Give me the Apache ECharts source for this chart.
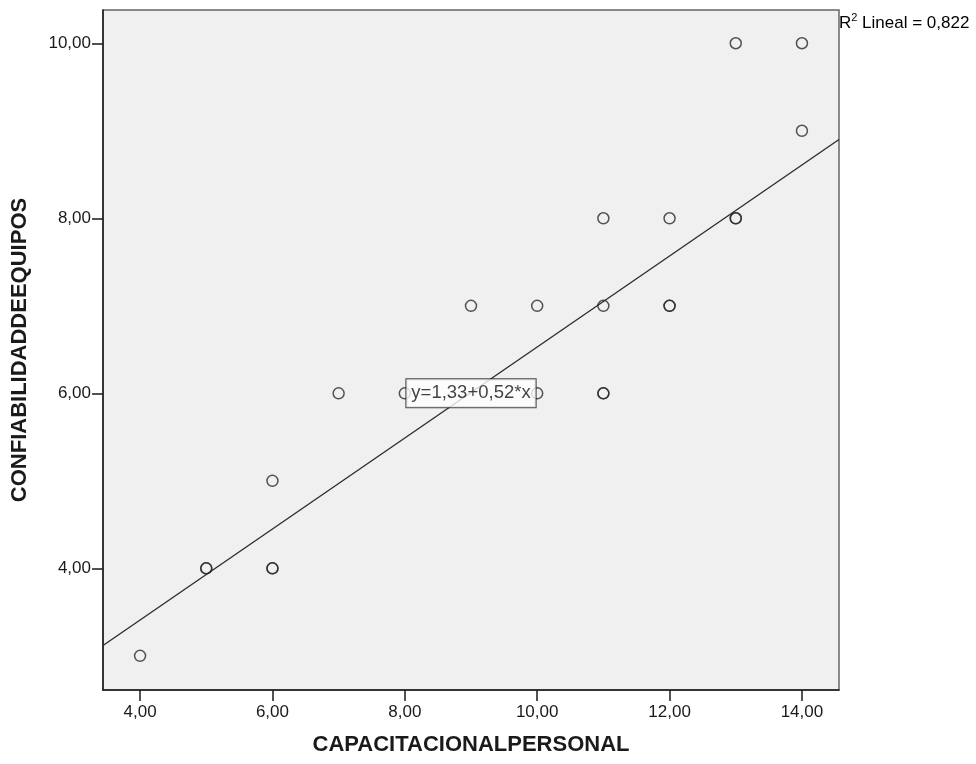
<!DOCTYPE html>
<html><head><meta charset="utf-8">
<script src="https://cdn.jsdelivr.net/npm/echarts@6/dist/echarts.min.js"></script>
<style>html,body{margin:0;padding:0;background:#fff}#c{width:976px;height:764px}</style>
</head><body><div id="c"></div>
<script>
const xValues = [4, 5, 5, 6, 6, 6, 7, 8, 9, 10, 10, 11, 11, 11, 11, 12, 12, 12, 13, 13, 13, 14, 14];
const yValues = [3, 4, 4, 4, 4, 5, 6, 6, 7, 7, 6, 8, 7, 6, 6, 8, 7, 7, 10, 8, 8, 10, 9];
const xTicks = [4, 6, 8, 10, 12, 14];
const yTicks = [4, 6, 8, 10];
const fitIntercept = [1.33];
const fitSlope = [0.52];
const r2Text = ['0,822'];
const xRange = [3.44, 14.56];
const yRange = [2.61, 10.38];
const eqPosition = [9, 6];

const fmt = v => Number(v).toFixed(2).replace('.', ',');
const pts = xValues.map((x, i) => [x, yValues[i]]);
const lineData = xRange.map(x => [x, fitIntercept[0] + fitSlope[0] * x]);
const eqText = 'y=' + fitIntercept[0].toFixed(2).replace('.', ',') + '+' + fitSlope[0].toFixed(2).replace('.', ',') + '*x';

const chart = echarts.init(document.getElementById('c'));
const font = 'Liberation Sans, Arial, sans-serif';
chart.setOption({
  animation: false,
  grid: {left: 103, right: 137, top: 10, bottom: 74, show: true, backgroundColor: '#F0F0F0', borderColor: '#666', borderWidth: 1.5},
  xAxis: {
    type: 'value', min: xRange[0], max: xRange[1],
    name: 'CAPACITACIONALPERSONAL', nameLocation: 'middle', nameGap: 44,
    nameTextStyle: {fontFamily: font, fontSize: 22, fontWeight: 'bold', color: '#1a1a1a'},
    axisLine: {show: true, onZero: false, lineStyle: {color: '#1a1a1a', width: 1.5}},
    axisTick: {show: true, length: 11, inside: false, customValues: xTicks, lineStyle: {color: '#1a1a1a', width: 1.5}},
    axisLabel: {customValues: xTicks, formatter: fmt, fontFamily: font, fontSize: 17, color: '#1a1a1a', margin: 14},
    splitLine: {show: false}
  },
  yAxis: {
    type: 'value', min: yRange[0], max: yRange[1],
    name: 'CONFIABILIDADDEEQUIPOS', nameLocation: 'middle', nameGap: 72, nameRotate: 90,
    nameTextStyle: {fontFamily: font, fontSize: 22, fontWeight: 'bold', color: '#1a1a1a'},
    axisLine: {show: true, onZero: false, lineStyle: {color: '#1a1a1a', width: 1.5}},
    axisTick: {show: true, length: 11, inside: false, customValues: yTicks, lineStyle: {color: '#1a1a1a', width: 1.5}},
    axisLabel: {customValues: yTicks, formatter: fmt, fontFamily: font, fontSize: 17, color: '#1a1a1a', margin: 12},
    splitLine: {show: false}
  },
  series: [
    {
      type: 'line', data: lineData, symbol: 'none', silent: true, z: 2,
      lineStyle: {color: '#2a2a2a', width: 1.3}
    },
    {
      type: 'scatter', data: pts, symbol: 'circle', symbolSize: 11, z: 3,
      itemStyle: {color: 'rgba(0,0,0,0)', borderColor: '#2a2a2a', borderWidth: 1.5}
    },
    {
      type: 'scatter', data: [eqPosition], symbolSize: 0, z: 5, silent: true,
      label: {
        show: true, position: 'inside', formatter: eqText,
        fontFamily: font, fontSize: 18.5, color: '#111',
        backgroundColor: '#fff', borderColor: '#222', borderWidth: 1,
        padding: [5, 5, 4, 5]
      }
    }
  ],
  graphic: [{
    type: 'text', left: 839, top: 12,
    style: {
      text: '{a|R}{s|2}{a| Lineal = ' + r2Text[0] + '}',
      rich: {
        a: {fontFamily: font, fontSize: 17, color: '#1a1a1a', verticalAlign: 'bottom', lineHeight: 20},
        s: {fontFamily: font, fontSize: 11, color: '#1a1a1a', verticalAlign: 'top', lineHeight: 12, padding: [0, 0, 8, 0]}
      }
    }
  }]
});
</script></body></html>
